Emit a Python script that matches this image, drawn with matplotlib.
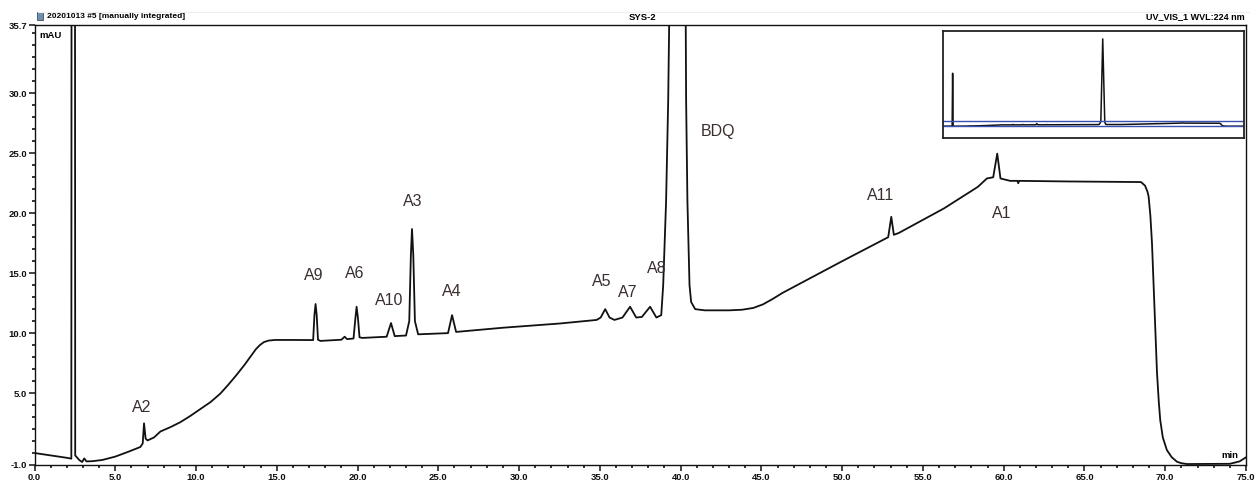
import matplotlib
matplotlib.use("Agg")
import matplotlib.pyplot as plt
from matplotlib.ticker import MultipleLocator, FixedLocator, FormatStrFormatter
from matplotlib.patches import Rectangle
from matplotlib.lines import Line2D

# retention time (min) and absorbance (mAU)
time_min = [
    0.0, 1.0, 2.0, 2.28, 2.40, 2.52, 2.62, 2.78, 2.95, 3.08, 3.22, 3.6, 4.2, 5.0,
    5.8, 6.55, 6.70, 6.78, 6.88, 7.0, 7.4, 7.8, 8.4, 9.0, 9.6, 10.25, 10.9,
    11.5, 12.0, 12.5, 13.0, 13.4, 13.7, 13.95, 14.2, 14.5, 14.9, 16.0, 17.25,
    17.33, 17.4, 17.47, 17.55, 17.7, 19.0, 19.2, 19.35, 19.75, 19.87, 19.94,
    20.02, 20.12, 20.3, 21.8, 22.07, 22.3, 23.0, 23.2, 23.3, 23.37, 23.45,
    23.55, 23.75, 25.6, 25.85, 26.1, 29.0, 32.5, 34.8, 35.05, 35.33, 35.6,
    35.9, 36.4, 36.87, 37.25, 37.6, 38.11, 38.5, 38.8, 38.92, 39.1, 39.23,
    39.33, 39.8, 40.3, 40.34, 40.42, 40.55, 40.65, 40.9, 41.5, 43.0, 43.8,
    44.5, 45.1, 45.7, 46.3, 47.0, 50.0, 52.85, 53.04, 53.2, 53.5, 56.3, 58.4,
    58.96, 59.35, 59.6, 59.8, 60.4, 60.85, 60.9, 60.95, 64.0, 68.5, 68.75,
    68.9, 68.97, 69.08, 69.18, 69.34, 69.49, 69.6, 69.69, 69.85, 70.1, 70.4,
    70.73, 71.0, 71.34, 74.0, 74.6, 75.0,
]
signal_mau = [
    0.0, -0.2, -0.4, -0.47, 400.0, -0.2, -0.35, -0.6, -0.75, -0.45, -0.7,
    -0.68, -0.58, -0.3, 0.1, 0.5, 0.8, 2.48, 1.2, 1.05, 1.3, 1.8, 2.15, 2.55,
    3.05, 3.65, 4.25, 4.95, 5.7, 6.5, 7.35, 8.1, 8.65, 9.0, 9.25, 9.38, 9.43,
    9.43, 9.42, 11.5, 12.43, 11.5, 9.45, 9.35, 9.45, 9.7, 9.5, 9.55, 11.3,
    12.2, 11.3, 9.65, 9.6, 9.7, 10.84, 9.75, 9.8, 11.0, 16.5, 18.68, 16.5,
    11.0, 9.9, 10.0, 11.5, 10.1, 10.45, 10.8, 11.1, 11.3, 12.0, 11.3, 11.1,
    11.3, 12.2, 11.3, 11.35, 12.2, 11.3, 11.5, 14.0, 21.0, 29.4, 40.0, 660.0,
    40.0, 29.4, 21.0, 14.0, 12.6, 12.0, 11.9, 11.9, 11.95, 12.1, 12.4, 12.85,
    13.35, 13.85, 16.0, 18.0, 19.7, 18.2, 18.35, 20.4, 22.2, 22.9, 23.0,
    24.97, 22.9, 22.7, 22.7, 22.5, 22.7, 22.65, 22.6, 22.3, 21.8, 21.4, 19.8,
    17.5, 11.9, 6.7, 4.3, 2.75, 1.3, 0.25, -0.35, -0.73, -0.85, -0.92, -0.9,
    -0.7, -0.36,
]

peak_names = ["A2", "A9", "A6", "A10", "A3", "A4", "A5", "A7", "A8", "BDQ", "A11", "A1"]
label_time = [6.65, 17.3, 19.85, 21.95, 23.4, 25.85, 35.1, 36.7, 38.55, 42.3, 52.35, 59.85]
label_mau = [3.8, 14.8, 15.0, 12.7, 20.95, 13.5, 14.3, 13.4, 15.4, 26.8, 21.5, 20.0]

x_ticks = [0.0, 5.0, 10.0, 15.0, 20.0, 25.0, 30.0, 35.0, 40.0, 45.0, 50.0, 55.0, 60.0, 65.0, 70.0, 75.0]
y_ticks = [-1.0, 5.0, 10.0, 15.0, 20.0, 25.0, 30.0, 35.7]

narrow = ["Liberation Sans Narrow", "Liberation Sans", "DejaVu Sans"]
label_font = ["Liberation Sans", "DejaVu Sans"]

W, H = 1255, 482
fig = plt.figure(figsize=(W / 100, H / 100), dpi=100)

# main chromatogram
ax = fig.add_axes([34.5 / W, 1 - 465 / H, (1246 - 34.5) / W, 440 / H])
ax.plot(time_min, signal_mau, color="#111111", lw=1.3, solid_joinstyle="round")
ax.set_xlim(0, 75)
ax.set_ylim(-1.0, 35.7)

ax.xaxis.set_major_locator(FixedLocator(x_ticks))
ax.xaxis.set_minor_locator(MultipleLocator(1.0))
ax.yaxis.set_major_locator(FixedLocator(y_ticks))
ax.yaxis.set_minor_locator(MultipleLocator(1.0))
ax.xaxis.set_major_formatter(FormatStrFormatter("%.1f"))
ax.yaxis.set_major_formatter(FormatStrFormatter("%.1f"))
ax.tick_params(which="major", direction="out", length=4, width=1.1, pad=1.5,
               labelsize=6.8, colors="#111111")
ax.tick_params(which="minor", direction="out", length=2.5, width=1.1)
for lab in ax.get_xticklabels() + ax.get_yticklabels():
    lab.set_family(narrow)
    lab.set_fontweight("bold")
for side in ["left", "bottom", "top", "right"]:
    ax.spines[side].set_linewidth(1.0)
    ax.spines[side].set_color("#111111")

for name, t, v in zip(peak_names, label_time, label_mau):
    ax.text(t, v, name, ha="center", va="center", fontsize=11.5,
            family=label_font, color="#3a2e2e")

ax.text(0.004, 0.975, "mAU", transform=ax.transAxes, ha="left", va="center",
        fontsize=6.8, family=narrow, fontweight="bold")
ax.text(0.994, 0.022, "min", transform=ax.transAxes, ha="right", va="center",
        fontsize=6.8, family=narrow, fontweight="bold")

# header line and captions
fig.add_artist(Line2D([0.03, 0.995], [1 - 11.5 / H, 1 - 11.5 / H], color="#eeeeee", lw=0.8))
fig.add_artist(Rectangle((37 / W, 1 - 20 / H), 6 / W, 8 / H, facecolor="#6c8fb8",
                         edgecolor="#333333", lw=0.5))
fig.text(47 / W, 1 - 16.5 / H, "20201013 #5 [manually integrated]", ha="left", va="center",
         fontsize=6.0, family=narrow, fontweight="bold")
fig.text(643 / W, 1 - 17 / H, "SYS-2", ha="center", va="center",
         fontsize=6.8, family=narrow, fontweight="bold")
fig.text(1245 / W, 1 - 17 / H, "UV_VIS_1 WVL:224 nm", ha="right", va="center",
         fontsize=6.5, family=narrow, fontweight="bold")

# overview inset with the zoom window
ins = fig.add_axes([943 / W, 1 - 138 / H, 301 / W, 107 / H])
ins.plot(time_min, signal_mau, color="#111111", lw=1.1)
ins.axhline(-1.0, color="#3c4fb0", lw=1.0)
ins.axhline(35.7, color="#3c4fb0", lw=1.0)
ins.set_xlim(0, 75)
ins.set_ylim(-90, 720)
ins.set_xticks([])
ins.set_yticks([])
for side in ins.spines:
    ins.spines[side].set_linewidth(1.3)
    ins.spines[side].set_color("#222222")

fig.savefig("out.png", dpi=100)
